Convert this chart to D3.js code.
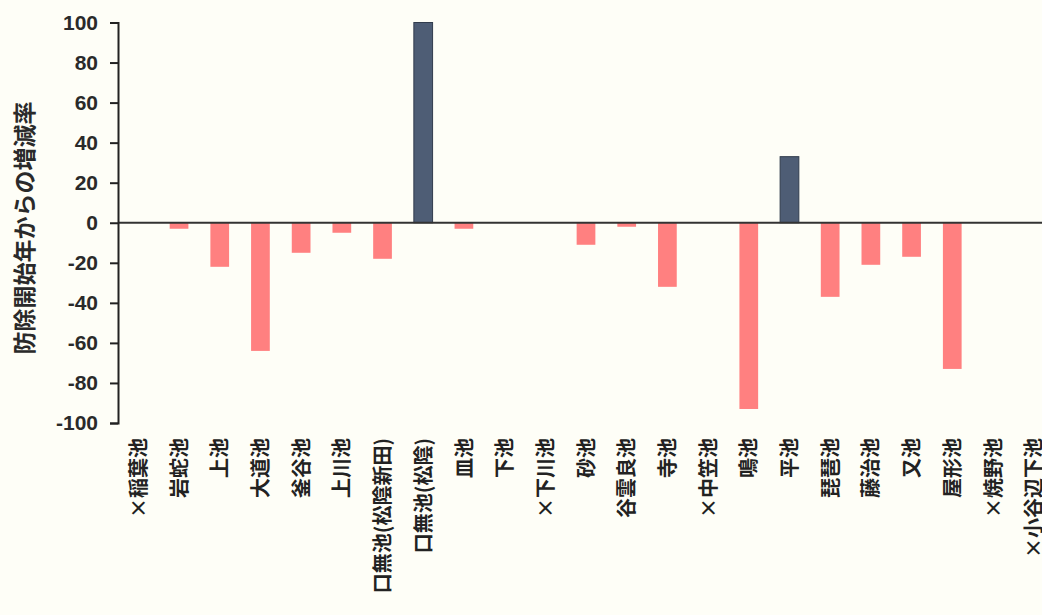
<!DOCTYPE html>
<html><head><meta charset="utf-8">
<script src="https://cdn.jsdelivr.net/npm/d3@7"></script>
<style>
html,body{margin:0;padding:0;background:#fefef7;}
svg{display:block;}
</style></head>
<body>
<svg id="chart" width="1042" height="615"></svg>
<script>
const categories = ["×稲葉池","岩蛇池","上池","大道池","釜谷池","上川池","口無池(松陰新田)","口無池(松陰)","皿池","下池","×下川池","砂池","谷雲良池","寺池","×中笠池","鳴池","平池","琵琶池","藤治池","又池","屋形池","×焼野池","×小谷辺下池"];
const values = [0,-3,-22,-64,-15,-5,-18,100,-3,0,0,-11,-2,-32,0,-93,33,-37,-21,-17,-73,0,0];
const yTicks = [100,80,60,40,20,0,-20,-40,-60,-80,-100];
const yTitle = "防除開始年からの増減率";

const svg = d3.select("#chart");
const x = d3.scaleBand().domain(categories).range([118, 1054]).paddingInner(0.54).paddingOuter(0.27);
const y = d3.scaleLinear().domain([-100, 100]).range([423, 22.5]);

// bars
svg.append("g").selectAll("rect").data(categories.map((c,i)=>({c, v: values[i]})).filter(d=>d.v!==0))
  .join("rect")
  .attr("x", d => x(d.c))
  .attr("width", x.bandwidth())
  .attr("y", d => y(Math.max(0, d.v)))
  .attr("height", d => Math.abs(y(d.v) - y(0)))
  .attr("fill", d => d.v > 0 ? "#4e5d75" : "#ff8080")
  .attr("stroke", d => d.v > 0 ? "#313c4d" : "none")
  .attr("stroke-width", 1);

// zero line
svg.append("line").attr("x1", 118).attr("x2", 1042).attr("y1", y(0)).attr("y2", y(0))
  .attr("stroke", "#333").attr("stroke-width", 2);

// y axis
const yAxis = d3.axisLeft(y).tickValues(yTicks).tickSize(8).tickPadding(12).tickFormat(d => String(d));
const gy = svg.append("g").attr("transform", "translate(118,0)").call(yAxis);
gy.select(".domain").attr("stroke", "#222").attr("stroke-width", 2);
gy.selectAll(".tick line").attr("stroke", "#222").attr("stroke-width", 2);
gy.selectAll(".tick text").attr("fill", "#2a2a2a")
  .style("font-family", "'Liberation Sans', Arial, sans-serif")
  .style("font-size", "21px").style("font-weight", "bold");

// x labels (read bottom-to-top)
svg.append("g").selectAll("text").data(categories).join("text")
  .attr("transform", d => `translate(${x(d) + x.bandwidth()/2},438) rotate(-90)`)
  .attr("dy", "0.38em")
  .attr("text-anchor", "end")
  .attr("fill", "#222")
  .style("font-family", "'Noto Sans CJK JP', sans-serif")
  .style("font-size", "20px").style("font-weight", "bold")
  .text(d => d);

// y title
svg.append("text")
  .attr("transform", "translate(24,228) rotate(-90)")
  .attr("text-anchor", "middle").attr("dy", "0.38em")
  .attr("fill", "#2a2a2a")
  .style("font-family", "'Noto Sans CJK JP', sans-serif")
  .style("font-size", "23px").style("font-weight", "bold")
  .text(yTitle);
</script>
</body></html>
